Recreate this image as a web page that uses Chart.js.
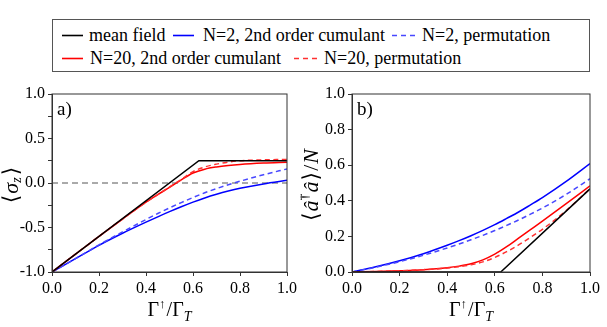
<!DOCTYPE html>
<html lang="en">
  <head>
    <meta charset="UTF-8" />
    <title>sigma_z and photon number</title>
    <script src="https://cdn.jsdelivr.net/npm/chart.js@4.4.0/dist/chart.umd.min.js"></script>
    <style>
      body { margin: 0; width: 607px; height: 327px; background: #fff; overflow: hidden; position: relative;
             font-family: "Liberation Serif", "Tinos", "DejaVu Serif", serif; }
      #legend { position: absolute; left: 52px; top: 19px; width: 538px; height: 53px; border: 1px solid #555; box-sizing: border-box; }
      .item { position: absolute; height: 20px; line-height: 20px; font-size: 18px; color: #000; white-space: nowrap; }
      .item svg { position: absolute; top: 0; }
      canvas { position: absolute; }
    </style>
  </head>
  <body>
    <div id="legend"></div>
    <canvas id="chartA" width="300" height="247" style="left:0;top:80px"></canvas>
    <canvas id="chartB" width="307" height="247" style="left:300px;top:80px"></canvas>

    <script>
      // x values (Gamma_up / Gamma_T)
      const xs = [0, 0.1, 0.2, 0.3, 0.4, 0.45, 0.5, 0.55, 0.6, 0.65, 0.7, 0.75, 0.8, 0.9, 1.0];
      const mfX = [0, 0.625, 1];
      const zeroX = [0, 1];
      const zeroY = [0, 0];

      // panel a) <sigma_z>
      const aMeanField = [-1, 0.25, 0.25];
      const aN2Cumulant = [-1, -0.85, -0.70, -0.565, -0.44, -0.38, -0.322, -0.267, -0.215, -0.168, -0.127, -0.091, -0.06, -0.01, 0.03];
      const aN2Perm = [-1, -0.85, -0.695, -0.55, -0.41, -0.343, -0.28, -0.22, -0.163, -0.11, -0.063, -0.02, 0.02, 0.093, 0.158];
      const aN20Cumulant = [-1, -0.80, -0.60, -0.405, -0.215, -0.13, -0.05, 0.035, 0.112, 0.155, 0.18, 0.197, 0.209, 0.224, 0.233];
      const aN20Perm = [-1, -0.80, -0.60, -0.405, -0.215, -0.13, -0.045, 0.04, 0.128, 0.18, 0.212, 0.235, 0.25, 0.26, 0.265];

      // panel b) <a^dag a>/N
      const bMeanField = [0, 0, 0.467];
      const bN2Cumulant = [0, 0.029, 0.063, 0.103, 0.150, 0.176, 0.204, 0.234, 0.266, 0.301, 0.337, 0.377, 0.418, 0.509, 0.609];
      const bN2Perm = [0, 0.027, 0.058, 0.094, 0.135, 0.157, 0.181, 0.206, 0.233, 0.262, 0.292, 0.325, 0.359, 0.436, 0.524];
      const bN20Cumulant = [0, 0.003, 0.007, 0.013, 0.024, 0.033, 0.046, 0.068, 0.100, 0.142, 0.190, 0.238, 0.286, 0.384, 0.484];
      const bN20Perm = [0, 0.003, 0.007, 0.013, 0.022, 0.030, 0.040, 0.057, 0.082, 0.114, 0.152, 0.195, 0.240, 0.345, 0.468];

      const legendLabels = ['mean field', 'N=2, 2nd order cumulant', 'N=2, permutation',
                            'N=20, 2nd order cumulant', 'N=20, permutation'];

      const SERIF = '"Liberation Serif", "Tinos", "DejaVu Serif", serif';
      const BLUE = '#0000ff', BLUE_D = '#4848ff', RED = '#ff0000', RED_D = '#ff3030';

      // legend (html)
      const legendItems = [
        { color: '#000', dash: false, sx: 62, tx: 89, row: 0 },
        { color: BLUE, dash: false, sx: 173, tx: 203, row: 0 },
        { color: BLUE_D, dash: true, sx: 392, tx: 422, row: 0 },
        { color: RED, dash: false, sx: 62, tx: 90, row: 1 },
        { color: RED_D, dash: true, sx: 294, tx: 324, row: 1 }
      ];
      const leg = document.getElementById('legend');
      legendItems.forEach((it, i) => {
        const top = (it.row === 0 ? 34 : 57) - 10 - 19;
        const sw = document.createElement('div');
        sw.className = 'item';
        sw.style.left = (it.sx - 53) + 'px';
        sw.style.top = top + 'px';
        sw.innerHTML = '<svg width="24" height="20"><line x1="0" y1="10.5" x2="' + (it.dash ? 23 : 21) +
          '" y2="10.5" stroke="' + it.color + '" stroke-width="1.6"' + (it.dash ? ' stroke-dasharray="5,4"' : '') + '/></svg>';
        leg.appendChild(sw);
        const tx = document.createElement('div');
        tx.className = 'item';
        tx.style.left = (it.tx - 53) + 'px';
        tx.style.top = top + 'px';
        tx.textContent = legendLabels[i];
        leg.appendChild(tx);
      });

      function pts(xv, yv) { return xv.map((x, i) => ({ x: x, y: yv[i] })); }

      function segFont(s, base) {
        return (s.italic ? 'italic ' : '') + Math.round(base * (s.scale || 1)) + 'px ' + SERIF;
      }
      function drawRich(ctx, segs, cx, cy, base, angle) {
        ctx.save();
        ctx.translate(cx, cy);
        ctx.rotate(angle || 0);
        let w = 0;
        segs.forEach(s => { ctx.font = segFont(s, base); w += ctx.measureText(s.t).width + (s.gap || 0); });
        let x = -w / 2;
        ctx.textBaseline = 'middle';
        ctx.fillStyle = '#000';
        segs.forEach(s => {
          ctx.font = segFont(s, base);
          ctx.fillText(s.t, x, (s.dy || 0) * base);
          x += ctx.measureText(s.t).width + (s.gap || 0);
        });
        ctx.restore();
      }

      const xTitle = [{ t: 'Γ' }, { t: '↑', scale: 0.65, dy: -0.33, gap: 1 }, { t: '/Γ' }, { t: 'T', italic: true, scale: 0.7, dy: 0.3 }];
      const aYTitle = [{ t: '⟨', gap: 1 }, { t: 'σ', italic: true }, { t: 'z', italic: true, scale: 0.62, dy: 0.25, gap: 2 }, { t: '⟩' }];
      const bYTitle = [{ t: '⟨', gap: 1 }, { t: 'â', italic: true }, { t: '†', scale: 0.65, dy: -0.33, gap: 1 }, { t: 'â', italic: true, gap: 1 },
                       { t: '⟩', gap: 1 }, { t: '/', gap: 1 }, { t: 'N', italic: true }];

      function panelPlugin(label, ySegs) {
        return {
          id: 'panel',
          afterDraw(chart) {
            const ctx = chart.ctx, a = chart.chartArea;
            ctx.save();
            ctx.strokeStyle = '#333';
            ctx.lineWidth = 1;
            ctx.strokeRect(a.left, a.top, a.right - a.left, a.bottom - a.top);
            ctx.fillStyle = '#000';
            ctx.font = '19px ' + SERIF;
            ctx.textBaseline = 'alphabetic';
            ctx.fillText(label, a.left + 5, a.top + 21);
            ctx.restore();
            drawRich(ctx, xTitle, (a.left + a.right) / 2, a.bottom + 39, 20, 0);
            drawRich(ctx, ySegs, a.left - 40, (a.top + a.bottom) / 2 + 2, 22, -Math.PI / 2);
          }
        };
      }

      function line(data, color, dash, order, smooth) {
        return {
          data: data, borderColor: color, borderWidth: 1.5, borderDash: dash ? [5, 3.5] : [],
          pointRadius: 0, showLine: true, fill: false, order: order,
          cubicInterpolationMode: smooth ? 'monotone' : 'default', tension: smooth ? 0.4 : 0
        };
      }

      function makeChart(id, datasets, yOpts, padRight, label, ySegs) {
        const tickFont = { family: SERIF, size: 16 };
        return new Chart(document.getElementById(id).getContext('2d'), {
          type: 'scatter',
          data: { datasets: datasets },
          options: {
            responsive: false,
            animation: false,
            layout: { padding: { left: 0, right: padRight, top: 14, bottom: 0 } },
            plugins: { legend: { display: false }, tooltip: { enabled: false } },
            scales: {
              x: {
                type: 'linear', min: 0, max: 1,
                afterFit(s) { s.height = 55; },
                grid: { drawOnChartArea: false, tickLength: 4, color: '#333' },
                border: { display: true, color: '#333' },
                ticks: { stepSize: 0.2, color: '#000', font: tickFont, padding: 3, maxRotation: 0,
                         callback: v => v.toFixed(1) }
              },
              y: Object.assign({
                type: 'linear',
                afterFit(s) { s.width = 52; },
                grid: { drawOnChartArea: false, tickLength: 4, color: '#333' },
                border: { display: true, color: '#333' }
              }, yOpts)
            }
          },
          plugins: [panelPlugin(label, ySegs)]
        });
      }

      makeChart('chartA', [
        line(pts(mfX, aMeanField), '#000', false, 1, false),
        line(pts(xs, aN20Perm), RED_D, true, 2, true),
        line(pts(xs, aN20Cumulant), RED, false, 3, true),
        line(pts(xs, aN2Perm), BLUE_D, true, 4, true),
        line(pts(xs, aN2Cumulant), BLUE, false, 5, true),
        Object.assign(line(pts(zeroX, zeroY), '#555', true, 10, false), { borderWidth: 1, borderDash: [6, 4] })
      ], {
        min: -1, max: 1,
        ticks: { stepSize: 0.25, color: '#000', font: { family: SERIF, size: 16 }, padding: 3,
                 callback: v => (Math.abs(v * 2 - Math.round(v * 2)) < 1e-6 ? v.toFixed(1) : '') }
      }, 11, 'a)', aYTitle);

      makeChart('chartB', [
        line(pts(mfX, bMeanField), '#000', false, 1, false),
        line(pts(xs, bN20Perm), RED_D, true, 2, true),
        line(pts(xs, bN20Cumulant), RED, false, 3, true),
        line(pts(xs, bN2Perm), BLUE_D, true, 4, true),
        line(pts(xs, bN2Cumulant), BLUE, false, 5, true)
      ], {
        min: 0, max: 1,
        ticks: { stepSize: 0.2, color: '#000', font: { family: SERIF, size: 16 }, padding: 3,
                 callback: v => v.toFixed(1) }
      }, 17, 'b)', bYTitle);
    </script>
  </body>
</html>
